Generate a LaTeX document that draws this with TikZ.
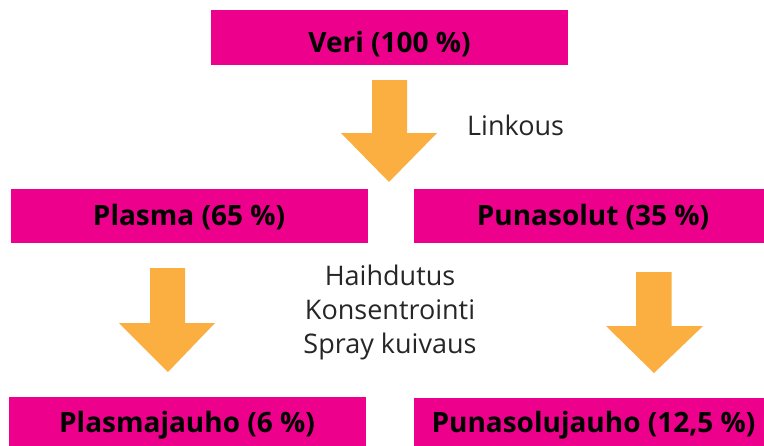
\documentclass[tikz,border=0pt]{standalone}
\usepackage{fontspec}
\setmainfont{Open Sans}
\definecolor{boxmag}{HTML}{EC008C}
\definecolor{arroworange}{HTML}{FAAF40}
\begin{document}
\begin{tikzpicture}[x=1pt,y=-1pt,
  boxfill/.style={fill=boxmag,draw=none},
  boxtext/.style={anchor=base,inner sep=0pt,font=\fontsize{28}{32}\selectfont\bfseries,text=black},
  steptext/.style={anchor=base,inner sep=0pt,font=\fontsize{27}{32}\selectfont,text=black!85},
  blockarrow/.style={fill=arroworange,draw=none}]
\useasboundingbox (0,0) rectangle (764,445);
\begin{scope}
\clip (0,0) rectangle (764,445);
% boxes
\fill[boxfill] (211,10) rectangle (568,65);
\fill[boxfill] (11,189) rectangle (368,243);
\fill[boxfill] (414,189) rectangle (770,243);
\fill[boxfill] (9,397) rectangle (366,450);
\fill[boxfill] (414,398) rectangle (770,450);
\node[boxtext] (veri) at (389.5,52) {Veri (100 \%)};
\node[boxtext] (plasma) at (189,225) {Plasma (65 \%)};
\node[boxtext] (puna) at (593,225) {Punasolut (35 \%)};
\node[boxtext] (pjauho) at (187,432) {Plasmajauho (6 \%)};
\node[boxtext] (pujauho) at (593.5,432) {Punasolujauho (12,5 \%)};
% arrows
\fill[blockarrow] (372,80) -- (407,80) -- (407,133) -- (437,133) -- (389,182) -- (341,133) -- (372,133) -- cycle;
\fill[blockarrow] (150,268) -- (185,268) -- (185,323) -- (215,323) -- (168,372) -- (119,323) -- (150,323) -- cycle;
\fill[blockarrow] (636,272) -- (671.5,272) -- (671.5,326) -- (703,326) -- (654,373) -- (606,326) -- (636,326) -- cycle;
% labels
\node[steptext,anchor=base west] (linkous) at (467,135) {Linkous};
\node[steptext] (haihd) at (390,285) {Haihdutus};
\node[steptext] (konsen) at (390,319) {Konsentrointi};
\node[steptext] (spray) at (390,353) {Spray kuivaus};
\end{scope}
\end{tikzpicture}
\end{document}
